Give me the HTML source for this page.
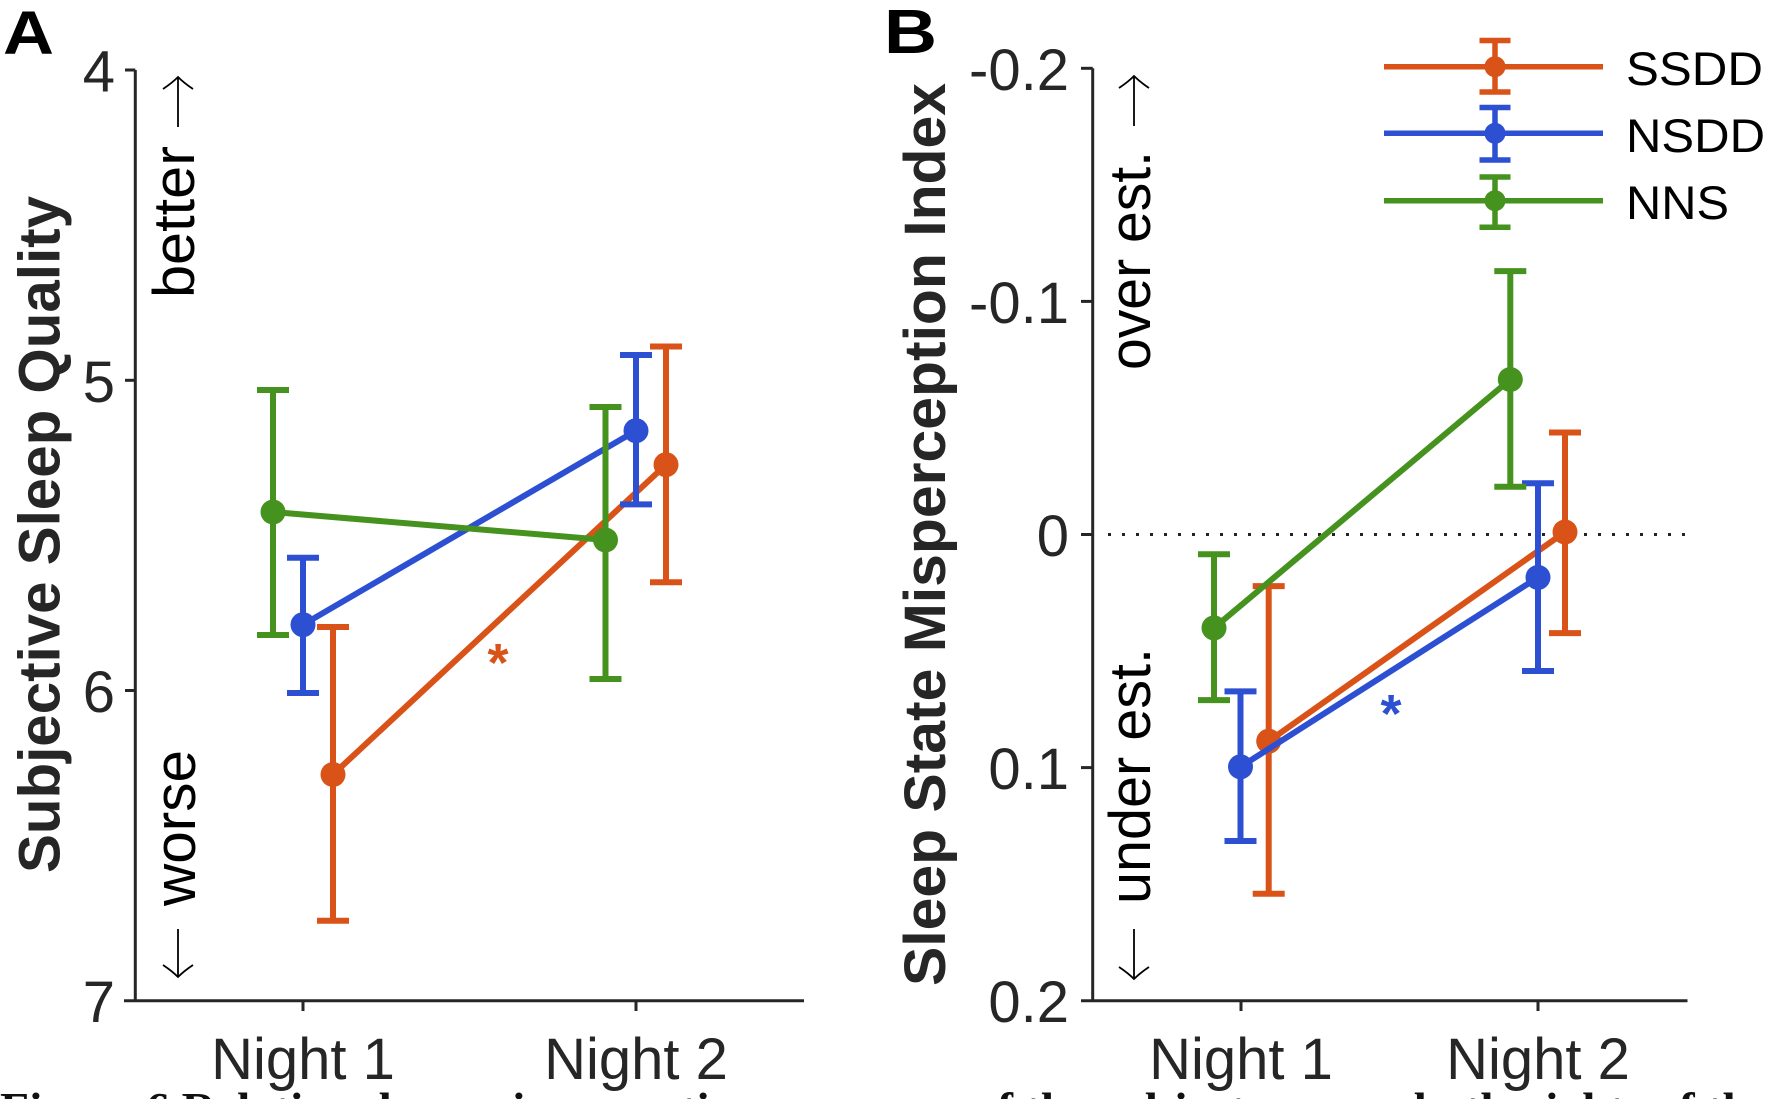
<!DOCTYPE html>
<html>
<head>
<meta charset="utf-8">
<style>
  html,body{margin:0;padding:0;background:#fff;}
  svg{display:block;}
  text{font-family:"Liberation Sans",Arial,sans-serif;}
</style>
</head>
<body>
<svg width="1770" height="1099" viewBox="0 0 1770 1099" xmlns="http://www.w3.org/2000/svg">
  <rect width="1770" height="1099" fill="#fff"/>

  <!-- Panel letters -->
  <text x="3" y="54" font-size="61" font-weight="bold" fill="#000" textLength="51" lengthAdjust="spacingAndGlyphs">A</text>
  <text x="884" y="53" font-size="62" font-weight="bold" fill="#000" textLength="53" lengthAdjust="spacingAndGlyphs">B</text>

  <!-- ================= PANEL A ================= -->
  <g stroke="#262626" stroke-width="3" fill="none">
    <line x1="135.3" y1="70" x2="135.3" y2="1000.7"/>
    <line x1="124" y1="1000.7" x2="804" y2="1000.7"/>
    <line x1="125" y1="70" x2="135.3" y2="70"/>
    <line x1="125" y1="380.3" x2="135.3" y2="380.3"/>
    <line x1="125" y1="690.5" x2="135.3" y2="690.5"/>
    <line x1="303" y1="1000.7" x2="303" y2="1011"/>
    <line x1="636" y1="1000.7" x2="636" y2="1011"/>
  </g>
  <g font-size="58" fill="#262626" text-anchor="end">
    <text x="115" y="91.5">4</text>
    <text x="115" y="401.8">5</text>
    <text x="115" y="712">6</text>
    <text x="115" y="1022.2">7</text>
  </g>
  <g font-size="58" fill="#262626" text-anchor="middle">
    <text x="303" y="1079">Night 1</text>
    <text x="636" y="1079">Night 2</text>
  </g>
  <text transform="translate(59.5,873) rotate(-90)" font-size="58" font-weight="bold" fill="#262626" textLength="677" lengthAdjust="spacingAndGlyphs">Subjective Sleep Quality</text>
  <text transform="translate(194,298) rotate(-90)" font-size="58" fill="#000" textLength="152" lengthAdjust="spacingAndGlyphs">better</text>
  <text transform="translate(195,906) rotate(-90)" font-size="58" fill="#000" textLength="156" lengthAdjust="spacingAndGlyphs">worse</text>
  <g stroke="#000" stroke-width="1.8" fill="none">
    <line x1="178" y1="127" x2="178" y2="77"/>
    <path d="M163,89 Q172,83 178,77 Q184,83 193,89"/>
    <line x1="178" y1="929" x2="178" y2="977"/>
    <path d="M163,965 Q172,971 178,977 Q184,971 193,965"/>
  </g>

  <!-- orange A -->
  <g stroke="#D95319" stroke-width="6" fill="none">
    <line x1="333" y1="774.5" x2="666" y2="464.7"/>
    <line x1="333" y1="627" x2="333" y2="920.7"/>
    <line x1="317" y1="627" x2="349" y2="627"/>
    <line x1="317" y1="920.7" x2="349" y2="920.7"/>
    <line x1="666" y1="346.5" x2="666" y2="582.3"/>
    <line x1="650" y1="346.5" x2="682" y2="346.5"/>
    <line x1="650" y1="582.3" x2="682" y2="582.3"/>
  </g>
  <g fill="#D95319">
    <circle cx="333" cy="774.5" r="12.5"/>
    <circle cx="666" cy="464.7" r="12.5"/>
  </g>
  <!-- blue A -->
  <g stroke="#2D4FD2" stroke-width="6" fill="none">
    <line x1="303" y1="624.7" x2="636" y2="430.7"/>
    <line x1="303" y1="557.7" x2="303" y2="693"/>
    <line x1="287" y1="557.7" x2="319" y2="557.7"/>
    <line x1="287" y1="693" x2="319" y2="693"/>
    <line x1="636" y1="355" x2="636" y2="504.4"/>
    <line x1="620" y1="355" x2="652" y2="355"/>
    <line x1="620" y1="504.4" x2="652" y2="504.4"/>
  </g>
  <g fill="#2D4FD2">
    <circle cx="303" cy="624.7" r="12.5"/>
    <circle cx="636" cy="430.7" r="12.5"/>
  </g>
  <!-- green A -->
  <g stroke="#46921F" stroke-width="6" fill="none">
    <line x1="273" y1="512" x2="605.5" y2="540"/>
    <line x1="273" y1="390" x2="273" y2="635"/>
    <line x1="257" y1="390" x2="289" y2="390"/>
    <line x1="257" y1="635" x2="289" y2="635"/>
    <line x1="605.5" y1="407" x2="605.5" y2="679"/>
    <line x1="589.5" y1="407" x2="621.5" y2="407"/>
    <line x1="589.5" y1="679" x2="621.5" y2="679"/>
  </g>
  <g fill="#46921F">
    <circle cx="273" cy="512" r="12.5"/>
    <circle cx="605.5" cy="540" r="12.5"/>
  </g>
  <text x="498" y="681" font-size="54" font-weight="bold" fill="#D95319" text-anchor="middle">*</text>

  <!-- ================= PANEL B ================= -->
  <line x1="1108" y1="534.5" x2="1688" y2="534.5" stroke="#222" stroke-width="3" stroke-dasharray="3 11"/>
  <g stroke="#262626" stroke-width="3" fill="none">
    <line x1="1092.7" y1="68.3" x2="1092.7" y2="1000.7"/>
    <line x1="1081" y1="1000.7" x2="1687.5" y2="1000.7"/>
    <line x1="1081" y1="68.3" x2="1092.7" y2="68.3"/>
    <line x1="1081" y1="301.4" x2="1092.7" y2="301.4"/>
    <line x1="1081" y1="534.5" x2="1092.7" y2="534.5"/>
    <line x1="1081" y1="767.6" x2="1092.7" y2="767.6"/>
    <line x1="1241" y1="1000.7" x2="1241" y2="1011"/>
    <line x1="1538" y1="1000.7" x2="1538" y2="1011"/>
  </g>
  <g font-size="58" fill="#262626" text-anchor="end">
    <text x="1069" y="89.8">-0.2</text>
    <text x="1069" y="322.9">-0.1</text>
    <text x="1069" y="556">0</text>
    <text x="1069" y="789.1">0.1</text>
    <text x="1069" y="1022.2">0.2</text>
  </g>
  <g font-size="58" fill="#262626" text-anchor="middle">
    <text x="1241" y="1079">Night 1</text>
    <text x="1538" y="1079">Night 2</text>
  </g>
  <text transform="translate(945,986) rotate(-90)" font-size="58" font-weight="bold" fill="#262626" textLength="903" lengthAdjust="spacingAndGlyphs">Sleep State Misperception Index</text>
  <text transform="translate(1150,370) rotate(-90)" font-size="58" fill="#000" textLength="219" lengthAdjust="spacingAndGlyphs">over est.</text>
  <text transform="translate(1150,904) rotate(-90)" font-size="58" fill="#000" textLength="256" lengthAdjust="spacingAndGlyphs">under est.</text>
  <g stroke="#000" stroke-width="1.8" fill="none">
    <line x1="1134" y1="126" x2="1134" y2="76"/>
    <path d="M1119,88 Q1128,82 1134,76 Q1140,82 1149,88"/>
    <line x1="1134" y1="929" x2="1134" y2="979"/>
    <path d="M1119,967 Q1128,973 1134,979 Q1140,973 1149,967"/>
  </g>

  <!-- orange B -->
  <g stroke="#D95319" stroke-width="6" fill="none">
    <line x1="1268.7" y1="741.2" x2="1565" y2="532"/>
    <line x1="1268.7" y1="586.1" x2="1268.7" y2="893.7"/>
    <line x1="1252.7" y1="586.1" x2="1284.7" y2="586.1"/>
    <line x1="1252.7" y1="893.7" x2="1284.7" y2="893.7"/>
    <line x1="1565" y1="432.5" x2="1565" y2="633.1"/>
    <line x1="1549" y1="432.5" x2="1581" y2="432.5"/>
    <line x1="1549" y1="633.1" x2="1581" y2="633.1"/>
  </g>
  <g fill="#D95319">
    <circle cx="1268.7" cy="741.2" r="12.5"/>
    <circle cx="1565" cy="532" r="12.5"/>
  </g>
  <!-- blue B -->
  <g stroke="#2D4FD2" stroke-width="6" fill="none">
    <line x1="1240.5" y1="766.8" x2="1538" y2="577.4"/>
    <line x1="1240.5" y1="691.4" x2="1240.5" y2="841"/>
    <line x1="1224.5" y1="691.4" x2="1256.5" y2="691.4"/>
    <line x1="1224.5" y1="841" x2="1256.5" y2="841"/>
    <line x1="1538" y1="483.3" x2="1538" y2="671"/>
    <line x1="1522" y1="483.3" x2="1554" y2="483.3"/>
    <line x1="1522" y1="671" x2="1554" y2="671"/>
  </g>
  <g fill="#2D4FD2">
    <circle cx="1240.5" cy="766.8" r="12.5"/>
    <circle cx="1538" cy="577.4" r="12.5"/>
  </g>
  <!-- green B -->
  <g stroke="#46921F" stroke-width="6" fill="none">
    <line x1="1214" y1="627.9" x2="1510.3" y2="379.5"/>
    <line x1="1214" y1="554.2" x2="1214" y2="700.1"/>
    <line x1="1198" y1="554.2" x2="1230" y2="554.2"/>
    <line x1="1198" y1="700.1" x2="1230" y2="700.1"/>
    <line x1="1510.3" y1="271.1" x2="1510.3" y2="486.8"/>
    <line x1="1494.3" y1="271.1" x2="1526.3" y2="271.1"/>
    <line x1="1494.3" y1="486.8" x2="1526.3" y2="486.8"/>
  </g>
  <g fill="#46921F">
    <circle cx="1214" cy="627.9" r="12.5"/>
    <circle cx="1510.3" cy="379.5" r="12.5"/>
  </g>
  <text x="1391" y="732" font-size="54" font-weight="bold" fill="#2D4FD2" text-anchor="middle">*</text>

  <!-- Legend -->
  <g stroke-width="5.5" fill="none">
    <g stroke="#D95319">
      <line x1="1384" y1="66.7" x2="1603" y2="66.7"/>
      <line x1="1495" y1="40.5" x2="1495" y2="92"/>
      <line x1="1479.5" y1="40.5" x2="1510.5" y2="40.5"/>
      <line x1="1479.5" y1="92" x2="1510.5" y2="92"/>
    </g>
    <g stroke="#2D4FD2">
      <line x1="1384" y1="133.3" x2="1603" y2="133.3"/>
      <line x1="1495" y1="107.5" x2="1495" y2="160"/>
      <line x1="1479.5" y1="107.5" x2="1510.5" y2="107.5"/>
      <line x1="1479.5" y1="160" x2="1510.5" y2="160"/>
    </g>
    <g stroke="#46921F">
      <line x1="1384" y1="200.7" x2="1603" y2="200.7"/>
      <line x1="1495" y1="177" x2="1495" y2="227.3"/>
      <line x1="1479.5" y1="177" x2="1510.5" y2="177"/>
      <line x1="1479.5" y1="227.3" x2="1510.5" y2="227.3"/>
    </g>
  </g>
  <circle cx="1495" cy="66.7" r="10.5" fill="#D95319"/>
  <circle cx="1495" cy="133.3" r="10.5" fill="#2D4FD2"/>
  <circle cx="1495" cy="200.7" r="10.5" fill="#46921F"/>
  <g font-size="47" fill="#000">
    <text x="1626" y="85" textLength="137" lengthAdjust="spacingAndGlyphs">SSDD</text>
    <text x="1626" y="151.8" textLength="139" lengthAdjust="spacingAndGlyphs">NSDD</text>
    <text x="1626" y="219" textLength="103" lengthAdjust="spacingAndGlyphs">NNS</text>
  </g>

  <!-- Cropped caption at bottom -->
  <text x="0" y="1124" style="font-family:'Liberation Serif',serif;font-weight:bold;font-size:46px" fill="#111" textLength="1770" lengthAdjust="spacingAndGlyphs">Figure 6 Relative sleep misperception measures of the subjects across both nights of the</text>
</svg>
</body>
</html>
